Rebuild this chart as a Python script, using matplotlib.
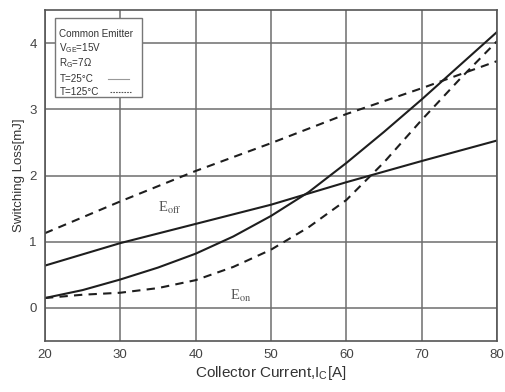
import matplotlib
matplotlib.use('Agg')
import matplotlib.pyplot as plt
from matplotlib.patches import Rectangle

# collector current [A]
ic_fine = [20, 25, 30, 35, 40, 45, 50, 55, 60, 65, 70, 75, 80]
ic_coarse = [20, 30, 40, 50, 60, 70, 80]

# switching loss [mJ]
eon_25 = [0.15, 0.27, 0.43, 0.61, 0.82, 1.08, 1.39, 1.75, 2.19, 2.66, 3.15, 3.66, 4.17]
eon_125 = [0.15, 0.20, 0.23, 0.30, 0.42, 0.62, 0.88, 1.22, 1.63, 2.20, 2.84, 3.45, 4.03]
eoff_25 = [0.64, 0.98, 1.27, 1.56, 1.90, 2.22, 2.53]
eoff_125 = [1.13, 1.61, 2.07, 2.49, 2.93, 3.32, 3.73]

x_ticks = [20, 30, 40, 50, 60, 70, 80]
y_ticks = [0, 1, 2, 3, 4]
legend_lines = ["Common Emitter", r"V$_{\rm GE}$=15V", r"R$_{\rm G}$=7$\Omega$",
                "T=25°C", "T=125°C"]

plt.rcParams['font.family'] = ['Liberation Sans', 'DejaVu Sans']
plt.rcParams['mathtext.fontset'] = 'custom'
plt.rcParams['mathtext.rm'] = 'Liberation Sans'

fig = plt.figure(figsize=(5.05, 3.92), dpi=100)
ax = fig.add_axes([0.089, 0.130, 0.895, 0.844])

line_col = '#1e1e1e'
ax.plot(ic_fine, eon_25, color=line_col, lw=1.5)
ax.plot(ic_coarse, eoff_25, color=line_col, lw=1.5)
ax.plot(ic_fine, eon_125, color=line_col, lw=1.5, ls=(0, (4, 3)))
ax.plot(ic_coarse, eoff_125, color=line_col, lw=1.5, ls=(0, (4, 3)))

ax.set_xlim(20, 80)
ax.set_ylim(-0.5, 4.5)
ax.set_xticks(x_ticks)
ax.set_yticks(y_ticks)
ax.grid(True, color='#6e6e6e', lw=1.1)
ax.set_axisbelow(True)
ax.tick_params(length=0, labelsize=9.5, labelcolor='#444444', pad=6)
for s in ax.spines.values():
    s.set_color('#555555')
    s.set_linewidth(1.2)

ax.set_xlabel(r"Collector Current,I$_{\rm C}$[A]", fontsize=11, color='#333333', labelpad=2)
ax.set_ylabel("Switching Loss[mJ]", fontsize=9.5, color='#333333', labelpad=3)

ax.text(35.0, 1.51, r"E$_{\rm off}$", fontsize=10.5, color='#555555',
        family=['Liberation Serif', 'DejaVu Serif'], va='center', math_fontfamily='stix')
ax.text(44.6, 0.18, r"E$_{\rm on}$", fontsize=10.5, color='#555555',
        family=['Liberation Serif', 'DejaVu Serif'], va='center', math_fontfamily='stix')

# condition box
ax.add_patch(Rectangle((0.022, 0.737), 0.193, 0.239, transform=ax.transAxes,
                       facecolor='white', edgecolor='#777777', lw=1.0, zorder=5))
ys = [0.928, 0.885, 0.840, 0.792, 0.753]
for txt, yy in zip(legend_lines, ys):
    ax.text(0.032, yy, txt, transform=ax.transAxes, fontsize=7.1,
            color='#333333', va='center', zorder=6)
ax.plot([0.14, 0.185], [ys[3], ys[3]], transform=ax.transAxes, color='#999999',
        lw=0.8, zorder=6)
ax.plot([0.145, 0.19], [ys[4], ys[4]], transform=ax.transAxes, color='#555555',
        lw=0.8, ls=(0, (1.5, 1)), zorder=6)

fig.savefig('out.png', dpi=100)
